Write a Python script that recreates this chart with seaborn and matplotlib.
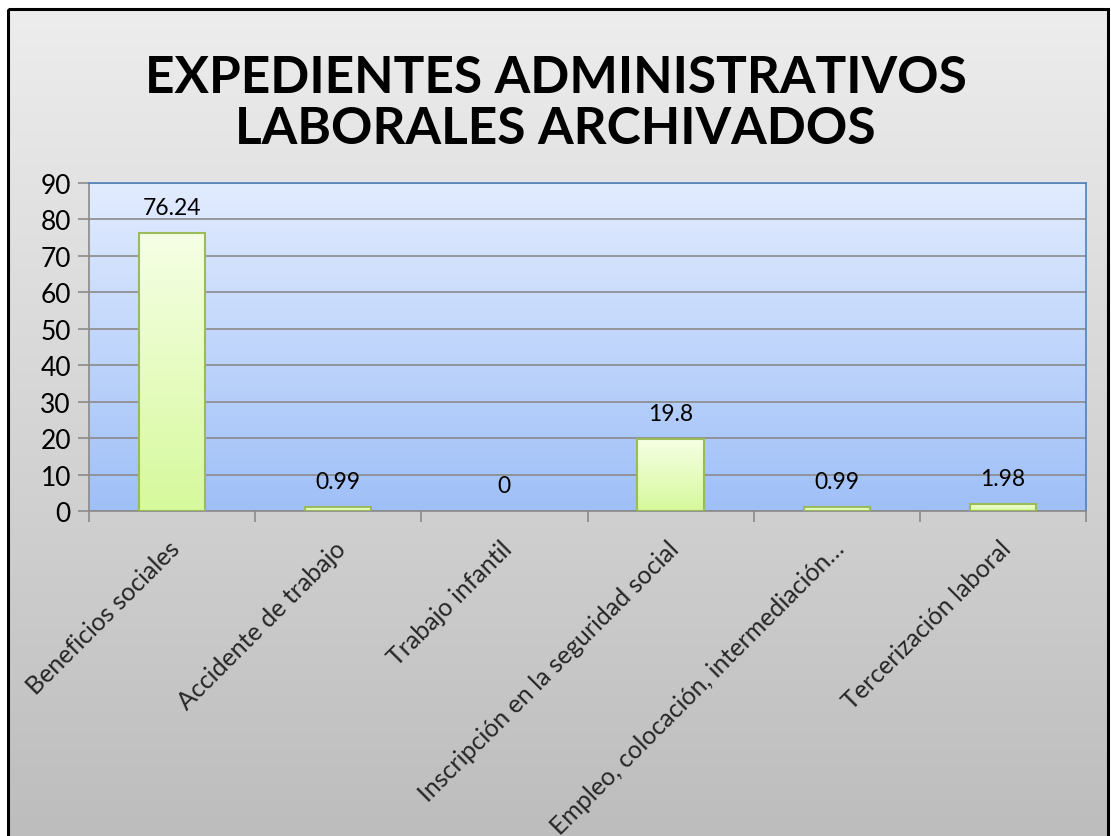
import numpy as np
import pandas as pd
import matplotlib.pyplot as plt
import matplotlib.transforms as mtrans
import seaborn as sns
from matplotlib.patches import Rectangle
from matplotlib.colors import LinearSegmentedColormap

# data
categories = ['Beneficios sociales', 'Accidente de trabajo', 'Trabajo infantil',
              'Inscripción en la seguridad social',
              'Empleo, colocación, intermediación…', 'Tercerización laboral']
values = [76.24, 0.99, 0, 19.8, 0.99, 1.98]
value_labels = ['76.24', '0.99', '0', '19.8', '0.99', '1.98']
title = 'EXPEDIENTES ADMINISTRATIVOS\nLABORALES ARCHIVADOS'

df = pd.DataFrame({'cat': categories, 'val': values})

sns.set_theme(style='white')
plt.rcParams['font.family'] = ['Lato', 'DejaVu Sans']

W, H = 1111, 837
fig = plt.figure(figsize=(W / 100, H / 100), dpi=100)
fig.patch.set_facecolor('white')

# figure background: gray gradient inside a black frame
bg = fig.add_axes([0, 0, 1, 1], zorder=-10)
bg.set_xlim(0, W)
bg.set_ylim(H, 0)
bg.axis('off')
gray = LinearSegmentedColormap.from_list('g', ['#ededed', '#bdbdbd'])
bg.imshow(np.linspace(0, 1, 256).reshape(-1, 1), cmap=gray, aspect='auto',
          extent=[8, 1108, H, 10], zorder=0)
bg.add_patch(Rectangle((8, 10), 1100, H, fill=False, edgecolor='black', lw=2.2, zorder=2))

fig.text(0.5, 1 - 104 / H, title, ha='center', va='center', fontsize=37,
         fontweight='bold', linespacing=1.12, color='black')

# plot area
x0, x1, y0, y1 = 89, 1086, 184, 512
ax = fig.add_axes([x0 / W, 1 - y1 / H, (x1 - x0) / W, (y1 - y0) / H])
sns.barplot(data=df, x='cat', y='val', ax=ax, width=0.4, color='#e8fbc0',
            edgecolor='#9bbb59', linewidth=1.5, zorder=3)

ax.set_ylim(0, 90)
ax.set_xlim(-0.5, len(categories) - 0.5)
ax.set_yticks(range(0, 91, 10))
ax.set_xlabel('')
ax.set_ylabel('')

blue = LinearSegmentedColormap.from_list('b', ['#e2ecff', '#9ebff7'])
ax.imshow(np.linspace(0, 1, 256).reshape(-1, 1), cmap=blue, aspect='auto',
          extent=[-0.5, len(categories) - 0.5, 0, 90], zorder=0)

# gradient fill for bars
green = LinearSegmentedColormap.from_list('gr', ['#f6ffe6', '#d6f99c'])
for p in list(ax.patches):
    if p.get_height() <= 0:
        p.set_visible(False)
        continue
    bx, by = p.get_x(), p.get_y()
    bw, bh = p.get_width(), p.get_height()
    im = ax.imshow(np.linspace(0, 1, 256).reshape(-1, 1), cmap=green, aspect='auto',
                   extent=[bx, bx + bw, by, by + bh], zorder=3.5)
    im.set_clip_path(p)
    p.set_facecolor('none')
    p.set_zorder(4)

ax.set_aspect('auto')
ax.set_xlim(-0.5, len(categories) - 0.5)
ax.set_ylim(0, 90)

ax.grid(axis='y', color='#8a8a8a', lw=1.2, zorder=1)
ax.set_axisbelow(True)

for i, (v, lab) in enumerate(zip(values, value_labels)):
    ax.annotate(lab, (i, v), xytext=(0, 11), textcoords='offset points',
                ha='center', va='bottom', fontsize=16.5, color='black')

ax.spines['left'].set_color('#8a8a8a')
ax.spines['bottom'].set_color('#8a8a8a')
ax.spines['top'].set_color('#4f81bd')
ax.spines['right'].set_color('#4f81bd')
for s in ax.spines.values():
    s.set_linewidth(1.2)

ax.tick_params(axis='y', length=8, width=1.2, color='#8a8a8a', labelsize=19,
               left=True, pad=5, labelcolor='black')
ax.set_xticks(np.arange(-0.5, len(categories), 1.0), minor=False)
ax.set_xticklabels([''] * (len(categories) + 1))
ax.tick_params(axis='x', length=8, width=1.2, color='#8a8a8a', bottom=True, direction='out')
ax.set_xticks(range(len(categories)), minor=True)
ax.set_xticklabels(categories, minor=True, rotation=45, ha='right',
                   rotation_mode='anchor', fontsize=18)
ax.tick_params(axis='x', which='minor', length=0, pad=8)
shift = mtrans.ScaledTranslation(-4 / 100, -14 / 100, fig.dpi_scale_trans)
for t in ax.get_xticklabels(minor=True):
    t.set_transform(t.get_transform() + shift)

fig.savefig('out.png', dpi=100, facecolor=fig.get_facecolor())
